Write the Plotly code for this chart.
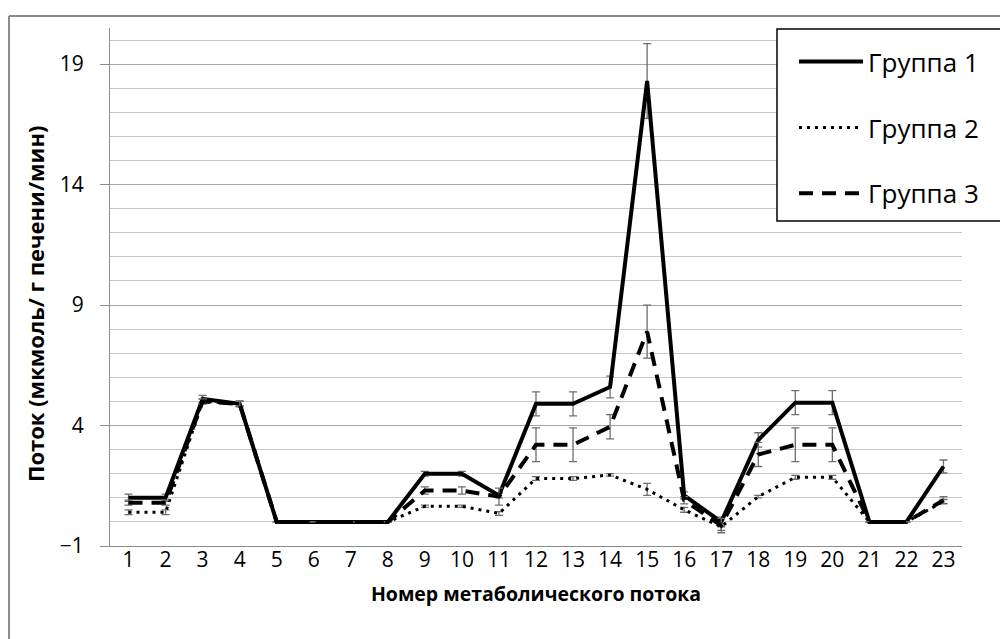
import plotly.graph_objects as go

# ---- data ----
cats = list(range(1, 24))
tick_labels = [str(c) for c in cats]

g1 = [1.0, 1.0, 5.1, 4.9, 0, 0, 0, 0, 2.0, 2.0, 1.1, 4.9, 4.9, 5.6, 18.3, 1.1, 0.0, 3.4, 4.95, 4.95, 0, 0, 2.3]
g1_err = [0.15, 0.15, 0.15, 0.12, 0, 0, 0, 0, 0.1, 0.1, 0.1, 0.5, 0.5, 0.45, 1.55, 0.15, 0.2, 0.3, 0.5, 0.5, 0, 0, 0.27]

g2 = [0.4, 0.4, 5.0, 4.9, 0, 0, 0, 0, 0.65, 0.65, 0.35, 1.8, 1.8, 1.95, 1.35, 0.5, -0.2, 1.05, 1.85, 1.85, 0, 0, 0.85]
g2_err = [0.1, 0.1, 0.1, 0.1, 0, 0, 0, 0, 0.05, 0.05, 0.08, 0.08, 0.08, 0.05, 0.25, 0.1, 0.15, 0.05, 0.08, 0.08, 0, 0, 0.08]

g3 = [0.8, 0.8, 5.0, 4.9, 0, 0, 0, 0, 1.3, 1.3, 1.05, 3.2, 3.2, 3.95, 7.9, 0.9, -0.15, 2.8, 3.2, 3.2, 0, 0, 0.9]
g3_err = [0.1, 0.1, 0.1, 0.1, 0, 0, 0, 0, 0.15, 0.15, 0.35, 0.7, 0.7, 0.5, 1.1, 0.15, 0.3, 0.5, 0.7, 0.7, 0, 0, 0.15]

names = ["Группа 1", "Группа 2", "Группа 3"]
x_title = "Номер метаболического потока"
y_title = "Поток (мкмоль/ г печени/мин)"

FONT = "Open Sans"
ERR_COLOR = "#6e6e6e"
FRAME = "#8c8c8c"

fig = go.Figure()

series = [
    (names[0], g1, g1_err, dict(color="black", width=4)),
    (names[1], g2, g2_err, dict(color="black", width=3, dash="3px,5px")),
    (names[2], g3, g3_err, dict(color="black", width=4, dash="14px,9px")),
]
for i, (nm, vals, errs, ln) in enumerate(series):
    fig.add_trace(go.Scatter(
        x=cats, y=vals, name=nm, mode="lines", line=ln,
        legendgroup=f"g{i}",
        error_y=dict(type="data", array=errs, visible=True, color=ERR_COLOR,
                     thickness=1.3, width=4),
    ))

# boundaries between categories for the tick marks on the zero line
boundaries = [c + 0.5 for c in cats[:-1]]
y_min, y_max = -1, 20.5

top_frame = (546 - 16) / 518
left_frame = (9 - 110) / 852

fig.update_layout(
    width=1008, height=639,
    paper_bgcolor="white", plot_bgcolor="white",
    margin=dict(l=102, r=54, t=20, b=101, autoexpand=False),
    font=dict(family=FONT, color="black"),
    showlegend=True,
    legend=dict(
        x=0.8028, y=0.9903, xanchor="left", yanchor="top",
        bgcolor="rgba(0,0,0,0)", borderwidth=0,
        font=dict(family=FONT, size=26, color="black"),
        title=dict(text=" ", font=dict(size=4)),
        tracegroupgap=29, itemwidth=64,
    ),
    xaxis=dict(
        range=[0.5, 23.5], tickmode="array", tickvals=cats, ticktext=tick_labels,
        ticks="", showgrid=False, zeroline=False,
        showline=True, linecolor=FRAME, linewidth=1,
        tickfont=dict(family=FONT, size=21, color="black"),
        ticklabelstandoff=-5,
        title=dict(text=f"<b>{x_title}</b>",
                   font=dict(family=FONT, size=19.5, color="black"), standoff=15),
        automargin=False,
    ),
    xaxis2=dict(
        overlaying="x", anchor="free", side="bottom",
        position=(0 - y_min) / (y_max - y_min),
        range=[0.5, 23.5], tickmode="array", tickvals=boundaries,
        ticks="outside", ticklen=8, tickcolor=FRAME, tickwidth=1,
        showticklabels=False, showgrid=False, zeroline=False,
        showline=True, linecolor="#a6a6a6", linewidth=1,
        automargin=False,
    ),
    yaxis=dict(
        range=[y_min, y_max], tick0=-1, dtick=5,
        ticks="outside", ticklen=9, tickcolor=FRAME, tickwidth=1,
        showline=True, linecolor=FRAME, linewidth=1,
        showgrid=True, gridcolor="#a6a6a6", gridwidth=1, zeroline=False,
        minor=dict(dtick=1, tick0=-1, showgrid=True, gridcolor="#c8c8c8", gridwidth=1, ticks=""),
        tickfont=dict(family=FONT, size=21, color="black"),
        ticklabelstandoff=12,
        automargin=False,
    ),
    annotations=[
        dict(text=f"<b>{y_title}</b>", textangle=-90, showarrow=False,
             xref="paper", yref="paper", x=(35 - 110) / 852, y=(546 - 304) / 518,
             xanchor="center", yanchor="middle",
             font=dict(family=FONT, size=22, color="black")),
    ],
    shapes=[
        # outer chart frame: left and top edges
        dict(type="line", xref="paper", yref="paper",
             x0=left_frame, x1=left_frame, y0=-0.3, y1=top_frame,
             line=dict(color=FRAME, width=2), layer="above"),
        dict(type="line", xref="paper", yref="paper",
             x0=left_frame, x1=1.2, y0=top_frame, y1=top_frame,
             line=dict(color=FRAME, width=2), layer="above"),
        # legend frame
        dict(type="rect", xref="paper", yref="paper",
             x0=(777 - 110) / 852, x1=(1001 - 110) / 852,
             y0=(546 - 221) / 518, y1=(546 - 29) / 518,
             line=dict(color="black", width=1.5), fillcolor="white",
             layer="above"),
    ],
)

fig.write_html("out.html")
